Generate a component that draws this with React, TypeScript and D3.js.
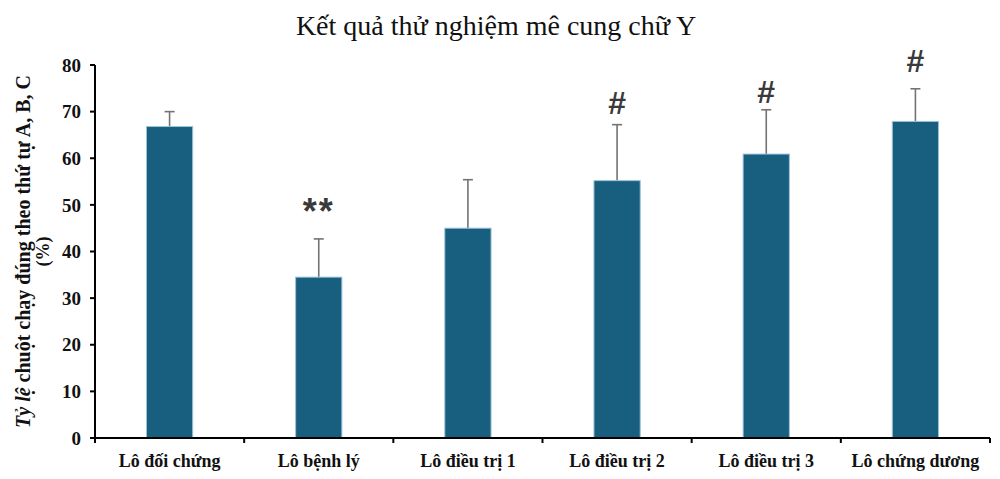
import React from "react";
import * as d3 from "d3";

const categories = ["Lô đối chứng", "Lô bệnh lý", "Lô điều trị 1", "Lô điều trị 2", "Lô điều trị 3", "Lô chứng dương"];
const means = [66.8, 34.5, 45.0, 55.2, 60.9, 67.9];
const errors = [3.2, 8.2, 10.4, 12.0, 9.5, 7.0];
const marks = ["", "**", "", "#", "#", "#"];
const markLevels = [0, 46.0, 0, 69.5, 71.9, 78.5];
const yTicks = [0, 10, 20, 30, 40, 50, 60, 70, 80];

const W = 1000;
const H = 479;
const SERIF = "'Times New Roman', 'Liberation Serif', serif";
const SANS = "Arial, 'Liberation Sans', sans-serif";

export default function App() {
  const x = d3.scaleBand<string>().domain(categories).range([95, 990]).paddingInner(0.69).paddingOuter(0.345);
  const y = d3.scaleLinear().domain([0, 80]).range([438, 65]);
  const step = x.step();
  const x0 = 95;
  const bounds = d3.range(categories.length + 1).map((i) => x0 + i * step);

  return (
    <svg width={W} height={H} style={{ position: "absolute", left: 0, top: 0, background: "#fff" }}>
      <text x={496} y={35} textAnchor="middle" fontFamily={SERIF} fontSize={28} fill="#111">
        Kết quả thử nghiệm mê cung chữ Y
      </text>

      {/* bars */}
      {categories.map((c, i) => {
        const bx = x(c)!;
        const bw = x.bandwidth();
        const cx = bx + bw / 2;
        const top = y(means[i] + errors[i]);
        return (
          <g key={c}>
            <line x1={cx} x2={cx} y1={y(means[i])} y2={top} stroke="#737373" strokeWidth={1.6} />
            <line x1={cx - 5} x2={cx + 5} y1={top} y2={top} stroke="#737373" strokeWidth={1.6} />
            <rect x={bx} y={y(means[i])} width={bw} height={y(0) - y(means[i])} fill="#175e7f" stroke="#9cc3d6" strokeWidth={1} />
            {marks[i] && (
              <text
                x={cx}
                y={y(markLevels[i])}
                textAnchor="middle"
                fontFamily={SANS}
                fontWeight="bold"
                fontSize={marks[i] === "#" ? 32 : 36}
                letterSpacing={marks[i] === "#" ? 0 : 2}
                fill="#3a3a3a"
              >
                {marks[i]}
              </text>
            )}
          </g>
        );
      })}

      {/* y axis */}
      <line x1={95} x2={95} y1={y(80)} y2={y(0)} stroke="#000" strokeWidth={2} />
      {yTicks.map((t) => (
        <g key={t}>
          <line x1={90} x2={95} y1={y(t)} y2={y(t)} stroke="#000" strokeWidth={2} />
          <text x={81} y={y(t)} dy="0.35em" textAnchor="end" fontFamily={SERIF} fontWeight="bold" fontSize={19} fill="#111">
            {t}
          </text>
        </g>
      ))}

      {/* x axis */}
      <line x1={94} x2={990} y1={y(0)} y2={y(0)} stroke="#000" strokeWidth={2} />
      {bounds.map((b, i) => (
        <line key={i} x1={b} x2={b} y1={y(0)} y2={y(0) + 5} stroke="#000" strokeWidth={2} />
      ))}
      {categories.map((c) => (
        <text key={c} x={x(c)! + x.bandwidth() / 2} y={467} textAnchor="middle" fontFamily={SERIF} fontWeight="bold" fontSize={18} fill="#111">
          {c}
        </text>
      ))}

      {/* y label */}
      <g transform={`translate(30, ${(y(0) + y(80)) / 2}) rotate(-90)`}>
        <text x={0} y={0} textAnchor="middle" fontFamily={SERIF} fontWeight="bold" fontSize={20} fill="#111">
          <tspan fontStyle="italic">Tỷ lệ</tspan> chuột chạy đúng theo thứ tự A, B, C
        </text>
        <text x={0} y={19} textAnchor="middle" fontFamily={SERIF} fontWeight="bold" fontSize={18} fill="#111">
          (%)
        </text>
      </g>
    </svg>
  );
}
